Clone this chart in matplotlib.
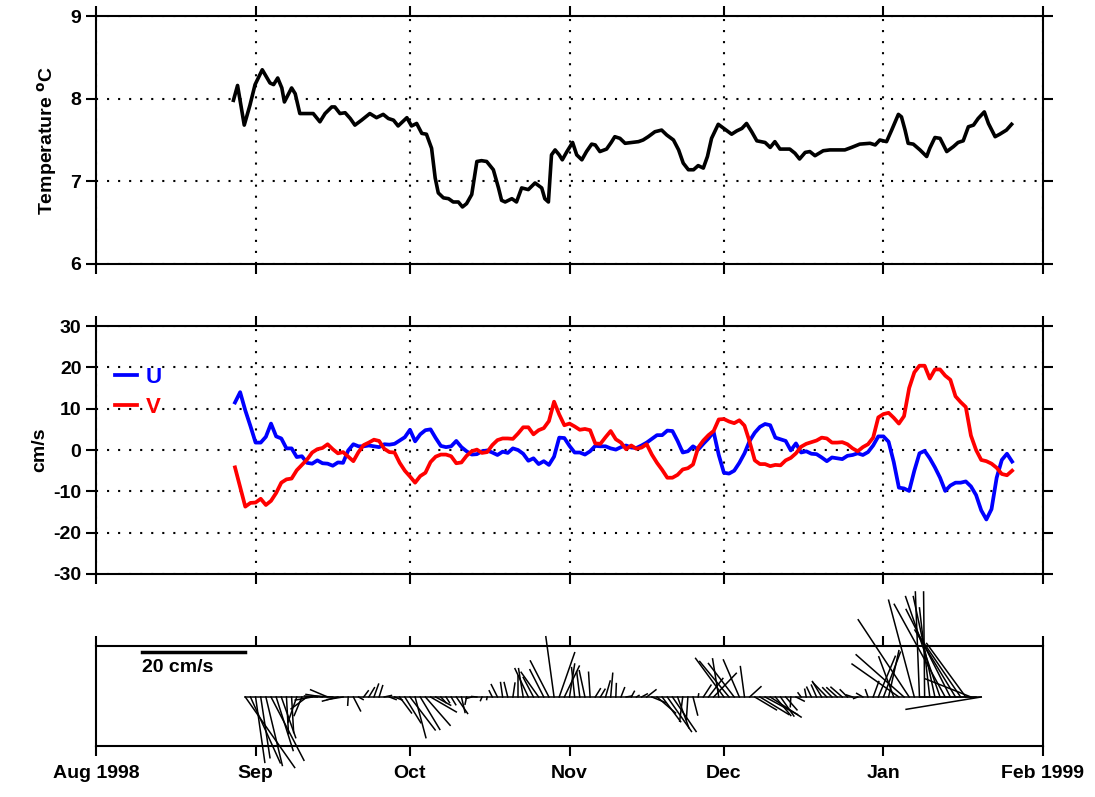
import numpy as np
import matplotlib
matplotlib.use('Agg')
import matplotlib.pyplot as plt

plt.rcParams['font.family'] = ['Liberation Sans', 'DejaVu Sans']
plt.rcParams['font.weight'] = 'bold'
plt.rcParams['font.size'] = 14
plt.rcParams['axes.unicode_minus'] = False

# time in days since 1 Aug 1998
t_temp = [26.7, 27.5, 28.8, 29.9, 30.9, 32.3, 33.8, 34.5, 35.3, 36.1, 36.6, 38.0, 38.7, 39.6,
          42.2, 43.5, 44.5, 45.8, 46.4, 47.4, 48.4, 49.4, 50.3, 51.6, 53.2, 54.5, 55.8, 56.8,
          57.8, 58.7, 60.4, 61.3, 62.3, 63.3, 64.2, 65.2, 65.9, 66.5, 67.5, 68.5, 69.4, 70.4,
          71.2, 72.0, 73.0, 74.0, 74.9, 75.9, 77.2, 78.2, 78.8, 79.5, 80.8, 81.7, 82.7, 84.0,
          85.3, 86.6, 87.2, 87.9, 88.5, 89.2, 90.0, 90.6, 91.5, 92.6, 93.4, 94.4, 95.3, 96.3,
          97.0, 97.9, 99.2, 100.1, 100.8, 101.8, 102.8, 104.1, 105.4, 106.3, 107.3, 108.6,
          109.9, 110.9, 112.2, 113.2, 114.1, 115.1, 116.1, 117.0, 118.0, 118.8, 119.6, 120.9,
          122.2, 123.5, 124.5, 125.5, 126.4, 127.4, 128.4, 130.0, 131.0, 131.9, 132.9, 134.8,
          135.8, 136.7, 137.8, 138.7, 139.7, 141.3, 142.6, 145.5, 146.8, 148.4, 150.4, 151.4,
          152.3, 153.6, 154.6, 155.9, 156.5, 157.2, 157.8, 158.8, 160.1, 161.4, 162.0, 163.0,
          164.0, 165.3, 166.6, 167.5, 168.5, 169.5, 170.5, 171.4, 172.6, 173.4, 174.7, 175.6,
          176.9, 177.9]
temp = [7.98, 8.16, 7.68, 7.92, 8.17, 8.35, 8.19, 8.17, 8.25, 8.13, 7.96, 8.13, 8.06, 7.82,
        7.82, 7.72, 7.82, 7.90, 7.90, 7.82, 7.83, 7.76, 7.68, 7.74, 7.82, 7.77, 7.81, 7.76,
        7.74, 7.67, 7.77, 7.67, 7.70, 7.58, 7.57, 7.40, 7.04, 6.86, 6.80, 6.79, 6.75, 6.75,
        6.69, 6.73, 6.84, 7.24, 7.25, 7.24, 7.14, 6.92, 6.77, 6.75, 6.79, 6.75, 6.92, 6.90,
        6.98, 6.92, 6.79, 6.75, 7.32, 7.38, 7.32, 7.26, 7.36, 7.47, 7.32, 7.26, 7.36, 7.45,
        7.44, 7.36, 7.39, 7.47, 7.54, 7.52, 7.46, 7.47, 7.48, 7.50, 7.54, 7.60,
        7.62, 7.56, 7.50, 7.38, 7.22, 7.14, 7.14, 7.19, 7.16, 7.30, 7.52, 7.69,
        7.63, 7.57, 7.61, 7.64, 7.70, 7.60, 7.49, 7.47, 7.41, 7.48, 7.39, 7.39,
        7.34, 7.27, 7.35, 7.36, 7.31, 7.37, 7.38, 7.38, 7.41, 7.45, 7.46, 7.44,
        7.50, 7.48, 7.62, 7.81, 7.78, 7.62, 7.46, 7.45, 7.38, 7.30, 7.40, 7.53,
        7.52, 7.36, 7.42, 7.47, 7.49, 7.66, 7.68, 7.76, 7.84, 7.70, 7.54, 7.57,
        7.62, 7.69]

# daily velocities, 27 Aug 1998 .. 26 Jan 1999
t_uv = np.arange(27, 179)
u = [11.5, 14.0, 9.6, 5.8, 1.8, 1.8, 3.2, 6.4, 3.3, 2.8,
     0.4, 0.4, -1.7, -1.5, -3.1, -3.3, -2.5, -3.2, -3.3, -3.8,
     -3.0, -3.1, -0.1, 1.4, 0.9, 0.9, 1.1, 0.9, 0.7, 1.4,
     1.3, 1.5, 2.3, 3.1, 4.9, 2.1, 3.8, 4.8, 5.0, 2.9,
     1.0, 0.7, 0.9, 2.2, 0.7, -0.3, -1.1, -1.0, -0.3, -0.1,
     -0.6, -1.2, -0.4, -0.7, 0.4, 0.0, -0.9, -2.6, -2.0, -3.4,
     -2.7, -3.6, -1.6, 3.0, 2.9, 1.0, -0.6, -0.6, -1.1, -0.3,
     1.0, 0.9, 0.9, 0.4, 0.1, 0.7, 1.1, 0.6, 0.5, 1.1,
     1.8, 2.7, 3.6, 3.6, 4.7, 4.6, 2.2, -0.6, -0.3, 0.9,
     0.1, 1.5, 2.8, 4.4, -1.2, -5.5, -5.7, -5.0, -3.1, -0.8,
     2.2, 4.2, 5.6, 6.3, 6.0, 3.0, 2.6, 2.2, -0.1, 1.6,
     -0.6, -0.3, -0.9, -1.0, -1.8, -2.7, -1.8, -2.0, -2.2, -1.4,
     -1.2, -0.8, -1.2, -0.5, 1.1, 3.3, 3.3, 2.0, -2.9, -9.1,
     -9.3, -9.9, -5.0, -0.8, -0.2, -2.0, -4.2, -6.7, -9.9, -8.6,
     -7.9, -7.9, -7.6, -8.8, -10.9, -14.6, -16.8, -14.3, -6.7, -2.4,
     -0.9, -2.8]
v = [-4.2, -9.0, -13.7, -12.8, -12.7, -11.8, -13.3, -12.3, -10.4, -7.9,
     -7.1, -6.9, -4.9, -3.6, -2.3, -0.6, 0.2, 0.5, 1.4, 0.2,
     -0.8, -0.5, -1.6, -2.7, -0.5, 1.2, 1.8, 2.5, 2.2, 0.3,
     -0.5, -0.6, -3.1, -5.0, -6.4, -7.9, -6.3, -5.5, -2.9, -1.6,
     -1.1, -1.1, -1.5, -3.2, -3.0, -1.4, -0.3, 0.1, -0.7, -0.5,
     1.2, 2.4, 2.8, 2.8, 2.7, 4.0, 5.5, 5.5, 3.8, 4.8,
     5.3, 7.0, 11.7, 8.6, 6.0, 6.4, 5.7, 4.9, 5.1, 4.8,
     1.6, 1.5, 3.1, 4.6, 2.6, 1.8, 0.2, 1.1, 0.3, 0.6,
     1.4, -1.1, -3.1, -4.8, -6.7, -6.7, -6.0, -4.7, -4.4, -3.5,
     0.6, 2.3, 3.6, 4.6, 7.4, 7.5, 6.9, 6.5, 7.2, 5.9,
     2.0, -2.5, -3.4, -3.4, -3.9, -3.6, -3.7, -2.5, -1.9, -0.8,
     0.8, 1.5, 1.9, 2.3, 3.0, 2.8, 1.8, 1.8, 1.9, 1.4,
     0.4, -0.3, 0.7, 1.4, 3.0, 7.9, 8.7, 9.0, 7.8, 6.4,
     8.2, 15.0, 18.8, 20.4, 20.4, 17.3, 19.5, 19.5, 18.0, 17.0,
     13.0, 11.6, 10.4, 3.5, 0.0, -2.4, -2.7, -3.3, -4.3, -5.8,
     -6.1, -5.0]

month_days = [0, 31, 61, 92, 122, 153, 184]
month_labels = ['Aug 1998', 'Sep', 'Oct', 'Nov', 'Dec', 'Jan', 'Feb 1999']
stick_start, stick_end = 29, 172   # sticks shown for this span
scale_len = 20                      # cm/s

u = np.array(u)
v = np.array(v)

fig = plt.figure(figsize=(10.95, 7.97), dpi=100)
ax1 = fig.add_axes([0.0877, 0.6688, 0.8648, 0.3111])
ax2 = fig.add_axes([0.0877, 0.2798, 0.8648, 0.3111])
ax3 = fig.add_axes([0.0877, 0.0640, 0.8648, 0.1255])

dots = (0, (1, 4.3))
for ax in (ax1, ax2, ax3):
    ax.set_xlim(0, 184)
    ax.set_xticks(month_days)
    ax.tick_params(direction='out', length=7.5, width=1.5, top=True, right=True,
                   labelsize=14, pad=3)
    for s in ax.spines.values():
        s.set_linewidth(1.5)

# temperature
ax1.plot(t_temp, temp, color='k', lw=2.6)
ax1.set_ylim(6, 9)
ax1.set_yticks([6, 7, 8, 9])
ax1.set_xticklabels([])
ax1.grid(True, color='k', linestyle=dots, lw=1.5)
ax1.set_ylabel('Temperature $^{\\mathbf{o}}$C', fontsize=14, fontweight='bold', labelpad=8)

# velocities
ax2.plot(t_uv, u, color='#0000ff', lw=2.7, label='U')
ax2.plot(t_uv, v, color='#ff0000', lw=2.7, label='V')
ax2.set_ylim(-30, 30)
ax2.set_yticks([-30, -20, -10, 0, 10, 20, 30])
ax2.set_xticklabels([])
ax2.grid(True, color='k', linestyle=dots, lw=1.5)
ax2.set_ylabel('cm/s', fontsize=14, fontweight='bold', labelpad=4)
leg = ax2.legend(loc='upper left', bbox_to_anchor=(0.02, 0.835), frameon=False,
                 handlelength=1.0, handletextpad=0.4, labelspacing=0.4,
                 borderpad=0, borderaxespad=0, labelcolor='linecolor',
                 prop={'size': 16, 'weight': 'bold'})

# stick plot: 1 cm/s drawn as 1 day so angles are kept
sel = (t_uv >= stick_start) & (t_uv <= stick_end)
ts = t_uv[sel]
ax3.plot(np.vstack([ts, ts + u[sel]]), np.vstack([np.zeros(ts.size), v[sel]]),
         color='k', lw=1.1, clip_on=False)
ax3.plot([ts[0], ts[-1]], [0, 0], color='k', lw=1.1)
ax3.set_ylim(-9.52, 9.91)
ax3.set_yticks([])
ax3.set_xticklabels(month_labels)
ax3.tick_params(axis='x', pad=6)
ax3.plot([ts[0] - scale_len, ts[0]], [8.8, 8.8], color='k', lw=2.5, clip_on=False)
ax3.text(ts[0] - scale_len, 5.8, '20 cm/s', fontsize=14, fontweight='bold',
         ha='left', va='center')

fig.savefig('out.png', dpi=100)
